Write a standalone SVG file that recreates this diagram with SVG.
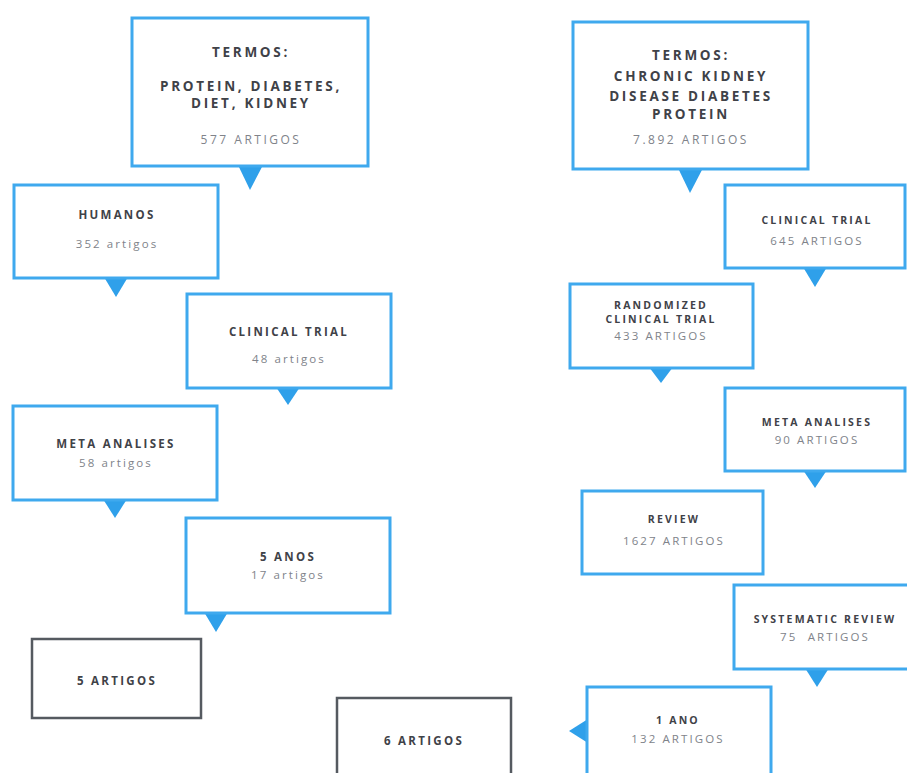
<svg xmlns="http://www.w3.org/2000/svg" width="907" height="773" viewBox="0 0 907 773">
<style>
.box{fill:#fff;stroke:#3FA9EE;stroke-width:3}
.gbox{fill:#fff;stroke:#555a60;stroke-width:2.5}
.ptr{fill:#2FA0EA}
text{font-family:"Open Sans","Liberation Sans",sans-serif;text-anchor:middle}
.h{font-weight:700;font-size:11.5px;letter-spacing:2.3px;fill:#3f4248}
.hb{font-weight:700;font-size:13.5px;letter-spacing:2.7px;fill:#3f4248}
.hs{font-weight:700;font-size:10.5px;letter-spacing:2.2px;fill:#3f4248}
.c{font-size:11.5px;letter-spacing:2.1px;fill:#80838a}
.cb{font-size:12px;letter-spacing:2.5px;fill:#80838a}
</style>
<rect width="907" height="773" fill="#fff"/>
<g id="connectors">
<polygon class="ptr" points="238,165 263,165 250,190"/>
<polygon class="ptr" points="678,168 703,168 690,193"/>
<polygon class="ptr" points="104,277 128,277 116,297"/>
<polygon class="ptr" points="276,387 300,387 288,405"/>
<polygon class="ptr" points="103,499 127,499 115,518"/>
<polygon class="ptr" points="204,612 228,612 216,632"/>
<polygon class="ptr" points="803,267 827,267 815,287"/>
<polygon class="ptr" points="649,367 673,367 661,383"/>
<polygon class="ptr" points="803,470 827,470 815,488"/>
<polygon class="ptr" points="805,668 829,668 817,687"/>
<polygon class="ptr" points="588,719 588,743 569,731"/>
</g>
<g id="n1">
<rect class="box" x="132" y="18" width="236" height="148"/>
<text class="hb" x="251" y="57">TERMOS:</text>
<text class="hb" x="251" y="91">PROTEIN, DIABETES,</text>
<text class="hb" x="251" y="108">DIET, KIDNEY</text>
<text class="cb" x="251" y="144">577 ARTIGOS</text>
</g>
<g id="n2">
<rect class="box" x="573" y="22" width="235" height="147"/>
<text class="hb" x="691" y="60">TERMOS:</text>
<text class="hb" x="691" y="81">CHRONIC KIDNEY</text>
<text class="hb" x="691" y="101">DISEASE DIABETES</text>
<text class="hb" x="691" y="119">PROTEIN</text>
<text class="cb" x="691" y="144">7.892 ARTIGOS</text>
</g>
<g id="n3">
<rect class="box" x="14" y="185" width="204" height="93"/>
<text class="h" x="117" y="219">HUMANOS</text>
<text class="c" x="117" y="248">352 artigos</text>
</g>
<g id="n4">
<rect class="box" x="187" y="294" width="204" height="94"/>
<text class="h" x="289" y="336">CLINICAL TRIAL</text>
<text class="c" x="289" y="363">48 artigos</text>
</g>
<g id="n5">
<rect class="box" x="13" y="406" width="204" height="94"/>
<text class="h" x="116" y="448">META ANALISES</text>
<text class="c" x="116" y="467">58 artigos</text>
</g>
<g id="n6">
<rect class="box" x="186" y="518" width="204" height="95"/>
<text class="h" x="288" y="561">5 ANOS</text>
<text class="c" x="288" y="579">17 artigos</text>
</g>
<g id="n7">
<rect class="gbox" x="32" y="639" width="169" height="79"/>
<text class="h" x="117" y="685">5 ARTIGOS</text>
</g>
<g id="n8">
<rect class="gbox" x="337" y="698" width="174" height="95"/>
<text class="h" x="424" y="745">6 ARTIGOS</text>
</g>
<g id="n9">
<rect class="box" x="725" y="185" width="180" height="83"/>
<text class="hs" x="817" y="224">CLINICAL TRIAL</text>
<text class="c" x="817" y="245">645 ARTIGOS</text>
</g>
<g id="n10">
<rect class="box" x="570" y="284" width="183" height="84"/>
<text class="hs" x="661" y="309">RANDOMIZED</text>
<text class="hs" x="661" y="323">CLINICAL TRIAL</text>
<text class="c" x="661" y="340">433 ARTIGOS</text>
</g>
<g id="n11">
<rect class="box" x="725" y="388" width="180" height="83"/>
<text class="hs" x="817" y="426">META ANALISES</text>
<text class="c" x="817" y="444">90 ARTIGOS</text>
</g>
<g id="n12">
<rect class="box" x="582" y="491" width="181" height="83"/>
<text class="hs" x="674" y="523">REVIEW</text>
<text class="c" x="674" y="545">1627 ARTIGOS</text>
</g>
<g id="n13">
<rect class="box" x="734" y="585" width="180" height="84"/>
<text class="hs" x="825" y="623">SYSTEMATIC REVIEW</text>
<text class="c" x="825" y="641" style="white-space:pre">75  ARTIGOS</text>
</g>
<g id="n14">
<rect class="box" x="587" y="687" width="184" height="88"/>
<text class="hs" x="678" y="724">1 ANO</text>
<text class="c" x="678" y="743">132 ARTIGOS</text>
</g>
</svg>
